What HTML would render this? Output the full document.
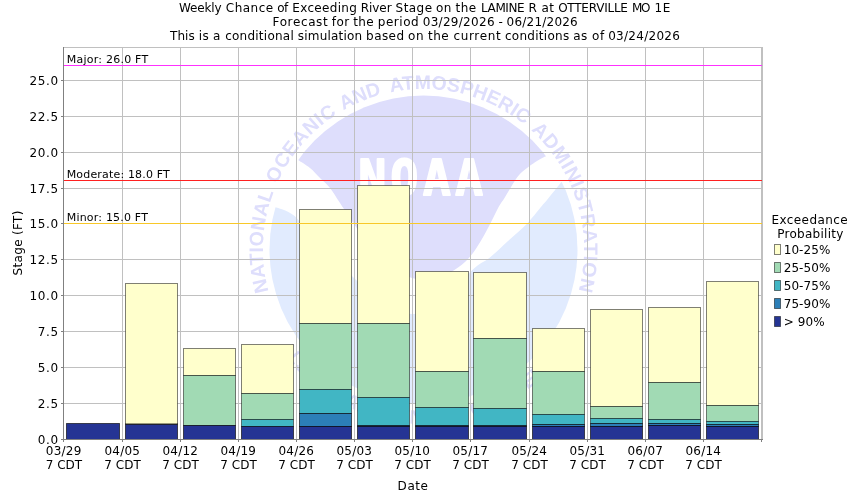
<!DOCTYPE html>
<html><head><meta charset="utf-8"><title>Weekly Chance of Exceeding River Stage</title>
<style>
html,body{margin:0;padding:0;background:#fff;}
body{width:850px;height:500px;overflow:hidden;font-family:"DejaVu Sans","Liberation Sans",sans-serif;}
svg{display:block;}
text{font-family:"DejaVu Sans","Liberation Sans",sans-serif;font-size:12px;fill:#000;}
.wm{font-family:"Liberation Sans","DejaVu Sans",sans-serif;font-weight:bold;}
</style></head><body>
<svg width="850" height="500" viewBox="0 0 850 500">
<rect width="850" height="500" fill="#fff"/>

<text y="12"><tspan x="178.90" textLength="42.82">Weekly</tspan> <tspan x="225.73" textLength="47.51">Chance</tspan> <tspan x="277.24" textLength="11.08">of</tspan> <tspan x="292.32" textLength="64.50">Exceeding</tspan> <tspan x="360.82" textLength="30.79">River</tspan> <tspan x="395.61" textLength="36.43">Stage</tspan> <tspan x="436.04" textLength="15.34">on</tspan> <tspan x="455.38" textLength="20.79">the</tspan> <tspan x="481.02" textLength="43.60">LAMINE</tspan> <tspan x="528.62">R</tspan> <tspan x="541.38" textLength="12.61">at</tspan> <tspan x="558.13" textLength="69.80">OTTERVILLE</tspan> <tspan x="631.92" textLength="18.56">MO</tspan> <tspan x="654.48" textLength="15.77">1E</tspan></text>
<text y="26"><tspan x="272.52" textLength="55.20">Forecast</tspan> <tspan x="331.72" textLength="17.55">for</tspan> <tspan x="353.28" textLength="20.43">the</tspan> <tspan x="377.71" textLength="40.98">period</tspan> <tspan x="422.71" textLength="71.81">03/29/2026</tspan> <tspan x="498.51">-</tspan> <tspan x="506.51" textLength="71.25">06/21/2026</tspan></text>
<text y="40"><tspan x="170.04" textLength="24.63">This</tspan> <tspan x="198.67" textLength="10.14">is</tspan> <tspan x="213.08">a</tspan> <tspan x="225.14" textLength="68.61">conditional</tspan> <tspan x="297.75" textLength="64.36">simulation</tspan> <tspan x="366.11" textLength="37.93">based</tspan> <tspan x="408.04" textLength="15.50">on</tspan> <tspan x="427.88" textLength="20.79">the</tspan> <tspan x="453.54" textLength="47.06">current</tspan> <tspan x="504.94" textLength="64.24">conditions</tspan> <tspan x="573.18" textLength="14.16">as</tspan> <tspan x="592.04" textLength="12.12">of</tspan> <tspan x="608.21" textLength="71.65">03/24/2026</tspan></text>
<defs><clipPath id="plot"><rect x="63" y="47" width="700" height="393"/></clipPath>
<clipPath id="disc"><circle cx="423.5" cy="249.5" r="154"/></clipPath>
<path id="ring" d="M 423.5 410.0 A 160.5 160.5 0 1 1 423.5 89.0 A 160.5 160.5 0 1 1 423.5 410.0"/>
<path id="ringb" d="M 249.0 249.5 A 174.5 174.5 0 1 0 598.0 249.5"/>
</defs>
<g clip-path="url(#plot)">
<g clip-path="url(#disc)">
<path d="M 250 420 L 250 207.2 L 275.2 207.2 C 276.3 207.5 279.8 208.4 282.0 209.2 C 284.2 210.0 286.4 210.9 288.4 212.0 C 290.4 213.1 292.3 214.2 294.0 215.6 C 295.7 217.0 293.6 215.0 298.8 220.4 C 304.0 225.8 315.8 238.4 325.0 248.0 C 334.2 257.6 344.0 268.8 354.0 278.0 C 364.0 287.2 375.3 297.0 385.0 303.0 C 394.7 309.0 402.8 313.7 412.0 314.0 C 421.2 314.3 429.9 312.3 440.0 305.0 C 450.1 297.7 464.1 277.8 472.3 270.0 C 480.5 262.2 483.4 262.8 489.3 258.0 C 495.2 253.2 501.8 246.7 508.0 241.0 C 514.2 235.3 521.3 229.6 526.7 224.0 C 532.1 218.4 537.1 211.5 540.5 207.5 C 543.9 203.5 544.8 202.7 547.0 200.0 C 549.2 197.3 551.4 194.6 553.8 191.6 C 556.2 188.6 560.1 183.6 561.4 182.0 L 600 182 L 600 420 Z" fill="#e1ebfe"/>
<path d="M 250 80 L 600 80 L 600 140 L 544.6 156.8 C 543.3 157.5 539.6 159.4 537.0 161.0 C 534.4 162.6 531.5 164.7 529.0 166.5 C 526.5 168.3 524.2 169.9 522.0 172.0 C 519.8 174.1 517.9 176.3 516.0 179.0 C 514.1 181.7 512.4 184.8 510.5 188.0 C 508.6 191.2 506.5 194.8 504.5 198.0 C 502.5 201.2 501.0 202.7 498.6 207.0 C 496.2 211.3 493.1 218.3 490.1 224.0 C 487.1 229.7 484.3 235.3 480.8 241.0 C 477.3 246.7 473.3 253.2 468.9 258.0 C 464.5 262.8 460.0 266.5 454.4 270.0 C 448.8 273.5 442.1 277.7 435.0 279.0 C 427.9 280.3 419.5 280.2 412.0 278.0 C 404.5 275.8 397.0 271.3 390.0 266.0 C 383.0 260.7 376.0 253.0 370.0 246.0 C 364.0 239.0 358.3 230.2 354.0 224.0 C 349.7 217.8 346.7 213.0 344.0 209.0 C 341.3 205.0 340.3 203.5 338.0 200.0 C 335.7 196.5 333.0 191.7 330.0 188.0 C 327.0 184.3 323.3 181.3 320.0 178.0 C 316.7 174.7 313.7 171.0 310.0 168.0 C 306.3 165.0 300.0 161.3 298.0 160.0 L 250 150 Z" fill="#dedefc"/>
<text transform="scale(0.92,1)" x="389.78 424.57 459.67 494.78" y="195" style="font-family:'DejaVu Sans Mono',monospace;font-weight:bold;font-size:50px;fill:#fff;stroke:#fff;stroke-width:2px;stroke-linejoin:round">NOAA</text>
</g>
<text class="wm" style="fill:#dedefc;font-size:19.5px"><textPath href="#ring" startOffset="209.5" textLength="101">NATIONAL</textPath> <textPath href="#ring" startOffset="319.5" textLength="93.3">OCEANIC</textPath> <textPath href="#ring" startOffset="420.0" textLength="41.8">AND</textPath> <textPath href="#ring" startOffset="470.7" textLength="142.7">ATMOSPHERIC</textPath> <textPath href="#ring" startOffset="621.5" textLength="176.6">ADMINISTRATION</textPath></text>
<text class="wm" style="fill:#dedefc;font-size:19.5px" text-anchor="middle"><textPath href="#ringb" startOffset="50%">U.S. DEPARTMENT OF COMMERCE</textPath></text>
</g>
<line x1="63" x2="763" y1="403.5" y2="403.5" stroke="#c0c0c0"/>
<line x1="63" x2="763" y1="367.5" y2="367.5" stroke="#c0c0c0"/>
<line x1="63" x2="763" y1="331.5" y2="331.5" stroke="#c0c0c0"/>
<line x1="63" x2="763" y1="295.5" y2="295.5" stroke="#c0c0c0"/>
<line x1="63" x2="763" y1="259.5" y2="259.5" stroke="#c0c0c0"/>
<line x1="63" x2="763" y1="223.5" y2="223.5" stroke="#c0c0c0"/>
<line x1="63" x2="763" y1="188.5" y2="188.5" stroke="#c0c0c0"/>
<line x1="63" x2="763" y1="152.5" y2="152.5" stroke="#c0c0c0"/>
<line x1="63" x2="763" y1="116.5" y2="116.5" stroke="#c0c0c0"/>
<line x1="63" x2="763" y1="80.5" y2="80.5" stroke="#c0c0c0"/>
<line x1="122.5" x2="122.5" y1="47" y2="439" stroke="#c0c0c0"/>
<line x1="180.5" x2="180.5" y1="47" y2="439" stroke="#c0c0c0"/>
<line x1="238.5" x2="238.5" y1="47" y2="439" stroke="#c0c0c0"/>
<line x1="296.5" x2="296.5" y1="47" y2="439" stroke="#c0c0c0"/>
<line x1="354.5" x2="354.5" y1="47" y2="439" stroke="#c0c0c0"/>
<line x1="412.5" x2="412.5" y1="47" y2="439" stroke="#c0c0c0"/>
<line x1="470.5" x2="470.5" y1="47" y2="439" stroke="#c0c0c0"/>
<line x1="529.5" x2="529.5" y1="47" y2="439" stroke="#c0c0c0"/>
<line x1="587.5" x2="587.5" y1="47" y2="439" stroke="#c0c0c0"/>
<line x1="645.5" x2="645.5" y1="47" y2="439" stroke="#c0c0c0"/>
<line x1="703.5" x2="703.5" y1="47" y2="439" stroke="#c0c0c0"/>
<line x1="761.5" x2="761.5" y1="47" y2="439" stroke="#c0c0c0"/>
<rect x="66.5" y="423.5" width="53" height="16" fill="#253494" stroke="#000" stroke-opacity="0.62"/>
<rect x="125.5" y="283.5" width="52" height="141" fill="#ffffcc" stroke="#000" stroke-opacity="0.5"/>
<rect x="125.5" y="424.5" width="52" height="15" fill="#253494" stroke="#000" stroke-opacity="0.62"/>
<line x1="125" x2="178" y1="423.5" y2="423.5" stroke="#000" stroke-opacity="0.4"/>
<rect x="183.5" y="348.5" width="52" height="27" fill="#ffffcc" stroke="#000" stroke-opacity="0.5"/>
<rect x="183.5" y="375.5" width="52" height="50" fill="#a1dab4" stroke="#000" stroke-opacity="0.5"/>
<rect x="183.5" y="425.5" width="52" height="14" fill="#253494" stroke="#000" stroke-opacity="0.62"/>
<rect x="241.5" y="344.5" width="52" height="49" fill="#ffffcc" stroke="#000" stroke-opacity="0.5"/>
<rect x="241.5" y="393.5" width="52" height="26" fill="#a1dab4" stroke="#000" stroke-opacity="0.5"/>
<rect x="241.5" y="419.5" width="52" height="7" fill="#41b6c4" stroke="#000" stroke-opacity="0.5"/>
<rect x="241.5" y="426.5" width="52" height="13" fill="#253494" stroke="#000" stroke-opacity="0.62"/>
<rect x="299.5" y="209.5" width="52" height="114" fill="#ffffcc" stroke="#000" stroke-opacity="0.5"/>
<rect x="299.5" y="323.5" width="52" height="66" fill="#a1dab4" stroke="#000" stroke-opacity="0.5"/>
<rect x="299.5" y="389.5" width="52" height="24" fill="#41b6c4" stroke="#000" stroke-opacity="0.5"/>
<rect x="299.5" y="413.5" width="52" height="13" fill="#2c7fb8" stroke="#000" stroke-opacity="0.62"/>
<rect x="299.5" y="426.5" width="52" height="13" fill="#253494" stroke="#000" stroke-opacity="0.62"/>
<rect x="357.5" y="185.5" width="52" height="138" fill="#ffffcc" stroke="#000" stroke-opacity="0.5"/>
<rect x="357.5" y="323.5" width="52" height="74" fill="#a1dab4" stroke="#000" stroke-opacity="0.5"/>
<rect x="357.5" y="397.5" width="52" height="28" fill="#41b6c4" stroke="#000" stroke-opacity="0.5"/>
<rect x="357.5" y="425.5" width="52" height="1" fill="#2c7fb8" stroke="#000" stroke-opacity="0.62"/>
<rect x="357.5" y="426.5" width="52" height="13" fill="#253494" stroke="#000" stroke-opacity="0.62"/>
<rect x="415.5" y="271.5" width="53" height="100" fill="#ffffcc" stroke="#000" stroke-opacity="0.5"/>
<rect x="415.5" y="371.5" width="53" height="36" fill="#a1dab4" stroke="#000" stroke-opacity="0.5"/>
<rect x="415.5" y="407.5" width="53" height="18" fill="#41b6c4" stroke="#000" stroke-opacity="0.5"/>
<rect x="415.5" y="425.5" width="53" height="1" fill="#2c7fb8" stroke="#000" stroke-opacity="0.62"/>
<rect x="415.5" y="426.5" width="53" height="13" fill="#253494" stroke="#000" stroke-opacity="0.62"/>
<rect x="473.5" y="272.5" width="53" height="66" fill="#ffffcc" stroke="#000" stroke-opacity="0.5"/>
<rect x="473.5" y="338.5" width="53" height="70" fill="#a1dab4" stroke="#000" stroke-opacity="0.5"/>
<rect x="473.5" y="408.5" width="53" height="17" fill="#41b6c4" stroke="#000" stroke-opacity="0.5"/>
<rect x="473.5" y="425.5" width="53" height="1" fill="#2c7fb8" stroke="#000" stroke-opacity="0.62"/>
<rect x="473.5" y="426.5" width="53" height="13" fill="#253494" stroke="#000" stroke-opacity="0.62"/>
<rect x="532.5" y="328.5" width="52" height="43" fill="#ffffcc" stroke="#000" stroke-opacity="0.5"/>
<rect x="532.5" y="371.5" width="52" height="43" fill="#a1dab4" stroke="#000" stroke-opacity="0.5"/>
<rect x="532.5" y="414.5" width="52" height="10" fill="#41b6c4" stroke="#000" stroke-opacity="0.5"/>
<rect x="532.5" y="424.5" width="52" height="2" fill="#2c7fb8" stroke="#000" stroke-opacity="0.62"/>
<rect x="532.5" y="426.5" width="52" height="13" fill="#253494" stroke="#000" stroke-opacity="0.62"/>
<rect x="590.5" y="309.5" width="52" height="97" fill="#ffffcc" stroke="#000" stroke-opacity="0.5"/>
<rect x="590.5" y="406.5" width="52" height="12" fill="#a1dab4" stroke="#000" stroke-opacity="0.5"/>
<rect x="590.5" y="418.5" width="52" height="5" fill="#41b6c4" stroke="#000" stroke-opacity="0.5"/>
<rect x="590.5" y="423.5" width="52" height="3" fill="#2c7fb8" stroke="#000" stroke-opacity="0.62"/>
<rect x="590.5" y="426.5" width="52" height="13" fill="#253494" stroke="#000" stroke-opacity="0.62"/>
<rect x="648.5" y="307.5" width="52" height="75" fill="#ffffcc" stroke="#000" stroke-opacity="0.5"/>
<rect x="648.5" y="382.5" width="52" height="37" fill="#a1dab4" stroke="#000" stroke-opacity="0.5"/>
<rect x="648.5" y="419.5" width="52" height="4" fill="#41b6c4" stroke="#000" stroke-opacity="0.5"/>
<rect x="648.5" y="423.5" width="52" height="2" fill="#2c7fb8" stroke="#000" stroke-opacity="0.62"/>
<rect x="648.5" y="425.5" width="52" height="14" fill="#253494" stroke="#000" stroke-opacity="0.62"/>
<rect x="706.5" y="281.5" width="52" height="124" fill="#ffffcc" stroke="#000" stroke-opacity="0.5"/>
<rect x="706.5" y="405.5" width="52" height="16" fill="#a1dab4" stroke="#000" stroke-opacity="0.5"/>
<rect x="706.5" y="421.5" width="52" height="3" fill="#41b6c4" stroke="#000" stroke-opacity="0.5"/>
<rect x="706.5" y="424.5" width="52" height="2" fill="#2c7fb8" stroke="#000" stroke-opacity="0.62"/>
<rect x="706.5" y="426.5" width="52" height="13" fill="#253494" stroke="#000" stroke-opacity="0.62"/>
<line x1="64" x2="762" y1="65.5" y2="65.5" stroke="#ff30ff"/>
<text x="66.7" y="63" style="font-size:11px" textLength="81.5">Major: 26.0 FT</text>
<line x1="64" x2="762" y1="180.5" y2="180.5" stroke="#ff2020"/>
<text x="66.7" y="178" style="font-size:11px" textLength="103.1">Moderate: 18.0 FT</text>
<line x1="64" x2="762" y1="223.5" y2="223.5" stroke="#f8c828"/>
<text x="66.7" y="221" style="font-size:11px" textLength="81.2">Minor: 15.0 FT</text>
<rect x="63.5" y="47.5" width="699" height="392" fill="none" stroke="#c0c0c0"/>
<line x1="63.5" x2="63.5" y1="47" y2="440" stroke="#808080"/>
<line x1="63" x2="763" y1="439.5" y2="439.5" stroke="#808080"/>
<line x1="61" x2="63" y1="439.5" y2="439.5" stroke="#808080"/>
<text x="37.7" y="443.5" textLength="20.4">0.0</text>
<line x1="61" x2="63" y1="403.5" y2="403.5" stroke="#808080"/>
<text x="37.7" y="407.5" textLength="20.4">2.5</text>
<line x1="61" x2="63" y1="367.5" y2="367.5" stroke="#808080"/>
<text x="37.7" y="371.5" textLength="20.4">5.0</text>
<line x1="61" x2="63" y1="331.5" y2="331.5" stroke="#808080"/>
<text x="37.7" y="335.5" textLength="20.4">7.5</text>
<line x1="61" x2="63" y1="295.5" y2="295.5" stroke="#808080"/>
<text x="29.5" y="299.5" textLength="28.6">10.0</text>
<line x1="61" x2="63" y1="259.5" y2="259.5" stroke="#808080"/>
<text x="29.5" y="263.5" textLength="28.6">12.5</text>
<line x1="61" x2="63" y1="223.5" y2="223.5" stroke="#808080"/>
<text x="29.5" y="227.5" textLength="28.6">15.0</text>
<line x1="61" x2="63" y1="188.5" y2="188.5" stroke="#808080"/>
<text x="29.5" y="192.5" textLength="28.6">17.5</text>
<line x1="61" x2="63" y1="152.5" y2="152.5" stroke="#808080"/>
<text x="29.5" y="156.5" textLength="28.6">20.0</text>
<line x1="61" x2="63" y1="116.5" y2="116.5" stroke="#808080"/>
<text x="29.5" y="120.5" textLength="28.6">22.5</text>
<line x1="61" x2="63" y1="80.5" y2="80.5" stroke="#808080"/>
<text x="29.5" y="84.5" textLength="28.6">25.0</text>
<line x1="63.5" x2="63.5" y1="440" y2="442" stroke="#808080"/>
<text x="45.8" y="455" textLength="35.6">03/29</text>
<text x="45.7" y="469" textLength="36.5">7 CDT</text>
<line x1="122.5" x2="122.5" y1="440" y2="442" stroke="#808080"/>
<text x="104.4" y="455" textLength="35.6">04/05</text>
<text x="104.3" y="469" textLength="36.5">7 CDT</text>
<line x1="180.5" x2="180.5" y1="440" y2="442" stroke="#808080"/>
<text x="162.4" y="455" textLength="35.6">04/12</text>
<text x="162.3" y="469" textLength="36.5">7 CDT</text>
<line x1="238.5" x2="238.5" y1="440" y2="442" stroke="#808080"/>
<text x="220.4" y="455" textLength="35.6">04/19</text>
<text x="220.3" y="469" textLength="36.5">7 CDT</text>
<line x1="296.5" x2="296.5" y1="440" y2="442" stroke="#808080"/>
<text x="278.4" y="455" textLength="35.6">04/26</text>
<text x="278.3" y="469" textLength="36.5">7 CDT</text>
<line x1="354.5" x2="354.5" y1="440" y2="442" stroke="#808080"/>
<text x="336.4" y="455" textLength="35.6">05/03</text>
<text x="336.3" y="469" textLength="36.5">7 CDT</text>
<line x1="412.5" x2="412.5" y1="440" y2="442" stroke="#808080"/>
<text x="394.4" y="455" textLength="35.6">05/10</text>
<text x="394.3" y="469" textLength="36.5">7 CDT</text>
<line x1="470.5" x2="470.5" y1="440" y2="442" stroke="#808080"/>
<text x="452.4" y="455" textLength="35.6">05/17</text>
<text x="452.3" y="469" textLength="36.5">7 CDT</text>
<line x1="529.5" x2="529.5" y1="440" y2="442" stroke="#808080"/>
<text x="511.4" y="455" textLength="35.6">05/24</text>
<text x="511.3" y="469" textLength="36.5">7 CDT</text>
<line x1="587.5" x2="587.5" y1="440" y2="442" stroke="#808080"/>
<text x="569.4" y="455" textLength="35.6">05/31</text>
<text x="569.3" y="469" textLength="36.5">7 CDT</text>
<line x1="645.5" x2="645.5" y1="440" y2="442" stroke="#808080"/>
<text x="627.4" y="455" textLength="35.6">06/07</text>
<text x="627.3" y="469" textLength="36.5">7 CDT</text>
<line x1="703.5" x2="703.5" y1="440" y2="442" stroke="#808080"/>
<text x="685.4" y="455" textLength="35.6">06/14</text>
<text x="685.3" y="469" textLength="36.5">7 CDT</text>
<line x1="761.5" x2="761.5" y1="440" y2="442" stroke="#808080"/>
<text x="397.6" y="490" textLength="30.4">Date</text>
<text transform="translate(21.5,243) rotate(-90)" text-anchor="middle" textLength="65">Stage (FT)</text>
<text x="771.4" y="224" textLength="76.3">Exceedance</text>
<text x="777.3" y="237.8" textLength="66">Probability</text>
<rect x="774.5" y="244.5" width="6" height="10" fill="#ffffcc" stroke="#000" stroke-opacity="0.5"/>
<text x="783.7" y="253.7" textLength="46.6">10-25%</text>
<rect x="774.5" y="262.5" width="6" height="10" fill="#a1dab4" stroke="#000" stroke-opacity="0.5"/>
<text x="783.7" y="271.7" textLength="46.6">25-50%</text>
<rect x="774.5" y="280.5" width="6" height="10" fill="#41b6c4" stroke="#000" stroke-opacity="0.5"/>
<text x="783.7" y="289.7" textLength="46.6">50-75%</text>
<rect x="774.5" y="298.5" width="6" height="10" fill="#2c7fb8" stroke="#000" stroke-opacity="0.5"/>
<text x="783.7" y="307.7" textLength="46.6">75-90%</text>
<rect x="774.5" y="316.5" width="6" height="10" fill="#253494" stroke="#000" stroke-opacity="0.5"/>
<text x="783.7" y="325.7" textLength="41">&gt; 90%</text>
</svg></body></html>
